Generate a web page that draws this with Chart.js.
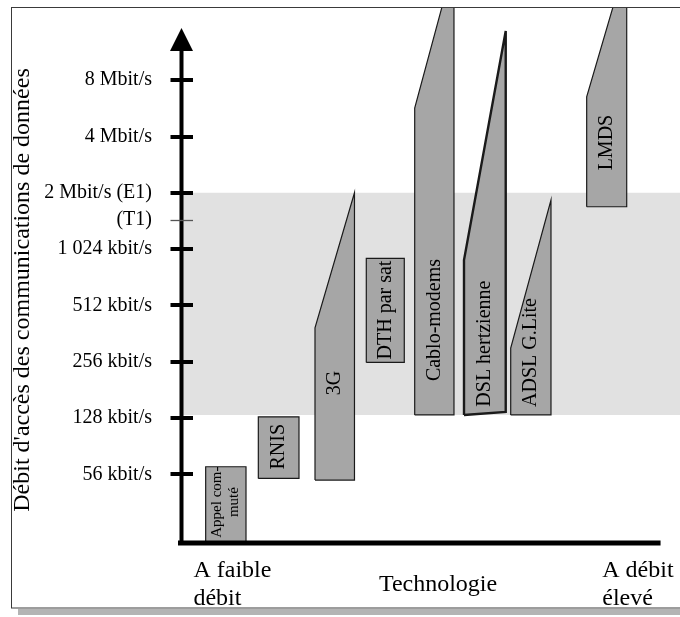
<!DOCTYPE html>
<html>
<head>
<meta charset="utf-8">
<script src="https://cdn.jsdelivr.net/npm/chart.js@4.4.1/dist/chart.umd.min.js"></script>
<style>
  html, body { margin: 0; background: #fff; }
  canvas { display: block; }
</style>
</head>
<body>
<canvas id="chart" width="680" height="617"></canvas>
<script>
// technologies, left to right along the "Technologie" axis
const technologies = ['Appel com-\nmuté', 'RNIS', '3G', 'DTH par sat', 'Cablo-modems', 'DSL hertzienne', 'ADSL G.Lite', 'LMDS'];
// horizontal span of each block (0..100 along the technology axis)
const spanFrom = [4.85, 15.41, 26.78, 37.07, 46.78, 56.67, 66.04, 81.28];
const spanTo   = [12.94, 23.57, 34.70, 44.69, 54.66, 65.04, 74.12, 89.31];
// rates in kbit/s : bottom and top of each block, left side and right side
const minRateLeft  = [27.5, 60.9, 59.7, 254, 133, 133, 133, 1726];
const minRateRight = [27.5, 60.9, 59.7, 254, 133, 138, 133, 1726];
const maxRateLeft  = [70.3, 130, 389, 915, 5818, 895, 303, 6686];
const maxRateRight = [70.3, 130, 2051, 915, 34893, 15014, 1874, 35891];
// where the name sits inside each block (kbit/s)
const labelRate = [45.5, 90, 197, 484, 428, 320, 287, 3802];

// shaded zone
const bandRates = [133, 2048];

// y axis
const rateTicks  = [64, 128, 256, 512, 1024, 1464, 2048, 4096, 8192];
const rateLabels = ['56 kbit/s', '128 kbit/s', '256 kbit/s', '512 kbit/s', '1 024 kbit/s', '(T1)', '2 Mbit/s (E1)', '4 Mbit/s', '8 Mbit/s'];
const rateMin = 27.5, rateMax = 19930;

// x axis
const xLabelAt = [2.4, 39.6, 84.4];
const xLabels  = [['A faible', 'débit'], 'Technologie', ['A débit', 'élevé']];
const xAxisEnd = 96.1;

const yTitle = "Débit d'accès des communications de données";
const serif = '"Liberation Serif", "Times New Roman", serif';

const outline = i => [
  { x: spanFrom[i], y: minRateLeft[i] },
  { x: spanFrom[i], y: maxRateLeft[i] },
  { x: spanTo[i],   y: maxRateRight[i] },
  { x: spanTo[i],   y: minRateRight[i] },
  { x: spanFrom[i], y: minRateLeft[i] }
];

const datasets = technologies.map((t, i) => ({
  label: t,
  data: outline(i),
  showLine: true,
  fill: 'shape',
  backgroundColor: '#a6a6a6',
  borderColor: '#1a1a1a',
  borderWidth: t === 'DSL hertzienne' ? 2.4 : 1.2,
  borderJoinStyle: 'miter',
  pointRadius: 0,
  tension: 0
}));

datasets.push({
  label: 'zone',
  data: [
    { x: 0, y: bandRates[0] }, { x: 0, y: bandRates[1] },
    { x: 100, y: bandRates[1] }, { x: 100, y: bandRates[0] },
    { x: 0, y: bandRates[0] }
  ],
  showLine: true,
  fill: 'shape',
  backgroundColor: '#e1e1e1',
  borderColor: 'transparent',
  pointRadius: 0,
  order: 1
});

const decor = {
  id: 'decor',
  afterDatasetsDraw(chart) {
    const { ctx, scales: { x, y } } = chart;
    ctx.save();
    ctx.fillStyle = '#000';
    ctx.textAlign = 'center';
    ctx.textBaseline = 'middle';
    technologies.forEach((t, i) => {
      const lines = t.split('\n');
      ctx.font = (lines.length > 1 ? 15 : 20) + 'px ' + serif;
      ctx.save();
      ctx.translate(x.getPixelForValue((spanFrom[i] + spanTo[i]) / 2), y.getPixelForValue(labelRate[i]));
      ctx.rotate(-Math.PI / 2);
      lines.forEach((l, k) => ctx.fillText(l, 0, (k - (lines.length - 1) / 2) * 17));
      ctx.restore();
    });
    ctx.restore();
  },
  afterDraw(chart) {
    const { ctx, chartArea: { left, top, bottom }, scales: { x, y } } = chart;
    ctx.save();

    // frame + shadow
    ctx.fillStyle = '#b4b4b4';
    ctx.fillRect(18, 609, chart.width - 18, 6);
    ctx.strokeStyle = '#3a3a3a';
    ctx.lineWidth = 1;
    ctx.strokeRect(11.5, 7.5, chart.width + 10, 600.5);

    // axes
    ctx.strokeStyle = '#000';
    ctx.lineWidth = 5;
    ctx.beginPath();
    ctx.moveTo(left - 3.5, bottom);
    ctx.lineTo(x.getPixelForValue(xAxisEnd), bottom);
    ctx.stroke();

    ctx.lineWidth = 4;
    ctx.beginPath();
    ctx.moveTo(left, bottom);
    ctx.lineTo(left, top + 42);
    ctx.stroke();

    ctx.fillStyle = '#000';
    ctx.beginPath();
    ctx.moveTo(left, top + 20);
    ctx.lineTo(left - 11.5, top + 43);
    ctx.lineTo(left + 11.5, top + 43);
    ctx.closePath();
    ctx.fill();

    // tick marks across the y axis
    rateTicks.forEach((v, i) => {
      const py = Math.round(y.getPixelForValue(v));
      const minor = rateLabels[i] === '(T1)';
      ctx.strokeStyle = minor ? '#555' : '#000';
      ctx.lineWidth = minor ? 1.3 : 4;
      ctx.beginPath();
      ctx.moveTo(left - 11, py + (minor ? 0.5 : 0));
      ctx.lineTo(left + 11.5, py + (minor ? 0.5 : 0));
      ctx.stroke();
    });

    // y title
    ctx.fillStyle = '#000';
    ctx.font = '24px ' + serif;
    ctx.textAlign = 'center';
    ctx.textBaseline = 'middle';
    ctx.translate(23, 290);
    ctx.rotate(-Math.PI / 2);
    ctx.fillText(yTitle, 0, 0);
    ctx.restore();
  }
};

new Chart(document.getElementById('chart'), {
  type: 'scatter',
  data: { datasets },
  options: {
    responsive: false,
    animation: false,
    devicePixelRatio: 1,
    layout: { padding: { top: 8, left: 0, right: 0, bottom: 0 } },
    plugins: { legend: { display: false }, tooltip: { enabled: false } },
    scales: {
      x: {
        type: 'linear', min: 0, max: 100, position: 'bottom',
        afterBuildTicks: s => { s.ticks = xLabelAt.map(v => ({ value: v })); },
        afterFit: s => { s.height = 74; s.paddingLeft = 0; s.paddingRight = 0; },
        ticks: {
          callback: (v, i) => xLabels[i],
          align: 'start', crossAlign: 'center', padding: 28,
          autoSkip: false, maxRotation: 0, minRotation: 0,
          color: '#000', font: { family: serif, size: 24, lineHeight: 1.15 }
        },
        grid: { display: false, drawTicks: false },
        border: { display: false }
      },
      y: {
        type: 'logarithmic', min: rateMin, max: rateMax,
        afterBuildTicks: s => { s.ticks = rateTicks.map(v => ({ value: v })); },
        afterFit: s => { s.width = 181.5; s.paddingTop = 0; s.paddingBottom = 0; },
        ticks: {
          callback: (v, i) => rateLabels[i],
          autoSkip: false, padding: 29.5,
          color: '#000', font: { family: serif, size: 20 }
        },
        grid: { display: false, drawTicks: false },
        border: { display: false }
      }
    }
  },
  plugins: [decor]
});
</script>
</body>
</html>
